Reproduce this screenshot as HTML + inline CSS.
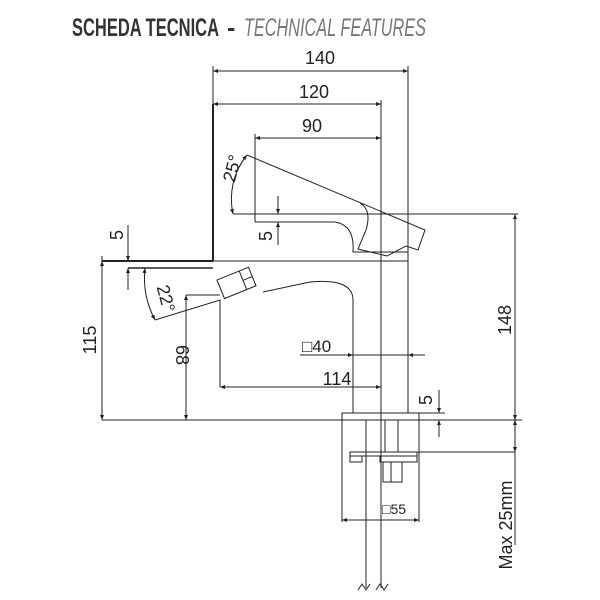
<!DOCTYPE html>
<html><head><meta charset="utf-8"><style>
html,body{margin:0;padding:0;background:#fff;}
svg{display:block;}
text{font-family:"Liberation Sans",sans-serif;fill:#222;}
</style></head><body>
<svg width="600" height="600" viewBox="0 0 600 600" xmlns="http://www.w3.org/2000/svg">
<defs>
<marker id="a" viewBox="0 0 10 10" refX="10" refY="5" markerWidth="7" markerHeight="5" orient="auto-start-reverse"><path d="M0,1 L10,5 L0,9 Z" fill="#222"/></marker>
</defs>
<text x="72" y="36" font-size="25" font-weight="bold" style="fill:#333" textLength="147" lengthAdjust="spacingAndGlyphs">SCHEDA TECNICA</text>
<text x="227" y="36" font-size="25" font-weight="bold" style="fill:#333">-</text>
<text x="244" y="36" font-size="25" font-style="italic" style="fill:#777" textLength="182" lengthAdjust="spacingAndGlyphs">TECHNICAL FEATURES</text>
<g stroke="#222" stroke-width="1" fill="none">
<line x1="213" y1="71" x2="408" y2="71" marker-start="url(#a)" marker-end="url(#a)"/>
<line x1="213" y1="104" x2="381" y2="104" marker-start="url(#a)" marker-end="url(#a)"/>
<line x1="255" y1="138" x2="381" y2="138" marker-start="url(#a)" marker-end="url(#a)"/>
<line x1="213" y1="66" x2="213" y2="104"/>
<line x1="408" y1="66" x2="408" y2="413"/>
<line x1="381" y1="100" x2="381" y2="588"/>
<line x1="255" y1="134" x2="255" y2="222"/>
<line x1="213" y1="104" x2="213" y2="261" stroke-width="2"/>
<line x1="102" y1="261" x2="213" y2="261" stroke-width="2"/>
<line x1="213" y1="261" x2="408" y2="261"/>
<line x1="102" y1="256" x2="102" y2="420"/>
<line x1="128" y1="268" x2="213" y2="268" stroke-width="1.6"/>
<path d="M247,155 L425,230 L418,250 L406,246 L387,256 L358,249 L366,230 Q372,210 360,203"/>
<line x1="233" y1="214" x2="518" y2="214"/>
<path d="M255,222 L335,222 Q355,225 353,252 L408,252"/>
<path d="M247,155 A70,70 0 0 0 233,214" marker-start="url(#a)" marker-end="url(#a)"/>
<line x1="278" y1="196" x2="278" y2="214" marker-end="url(#a)"/>
<line x1="278" y1="245" x2="278" y2="222" marker-end="url(#a)"/>
<line x1="128" y1="225" x2="128" y2="261" marker-end="url(#a)"/>
<line x1="128" y1="290" x2="128" y2="268" marker-end="url(#a)"/>
<line x1="102" y1="261" x2="102" y2="420" marker-start="url(#a)" marker-end="url(#a)"/>
<path d="M145,268 A90,90 0 0 0 155,320" marker-start="url(#a)" marker-end="url(#a)"/>
<path d="M155,320 L220,300 L220,387"/>
<path d="M186,295 L220,295"/>
<g transform="translate(217,280) rotate(-22)">
<rect x="0" y="0" width="34" height="20"/>
<line x1="24" y1="0" x2="24" y2="20"/>
<line x1="24" y1="10" x2="34" y2="10"/>
</g>
<path d="M263,292 L310,282 Q353,278 353,300 L353,413"/>
<line x1="186" y1="295" x2="186" y2="420" marker-start="url(#a)" marker-end="url(#a)"/>
<line x1="220" y1="387" x2="381" y2="387" marker-start="url(#a)" marker-end="url(#a)"/>
<line x1="300" y1="355" x2="353" y2="355"/>
<line x1="335" y1="355" x2="353" y2="355" marker-end="url(#a)"/>
<line x1="425" y1="355" x2="408" y2="355" marker-end="url(#a)"/>
<line x1="353" y1="355" x2="408" y2="355"/>
<line x1="102" y1="420" x2="522" y2="420"/>
<rect x="342" y="413" width="77" height="7"/>
<line x1="342" y1="420" x2="342" y2="522"/>
<line x1="419" y1="420" x2="419" y2="522"/>
<line x1="342" y1="520" x2="419" y2="520" marker-start="url(#a)" marker-end="url(#a)"/>
<line x1="366" y1="420" x2="366" y2="588"/>
<line x1="385" y1="420" x2="385" y2="452"/>
<line x1="398" y1="420" x2="398" y2="452"/>
<rect x="350" y="452" width="67" height="4"/>
<rect x="350" y="456" width="12" height="6"/>
<rect x="380" y="456" width="37" height="6"/>
<rect x="383" y="462" width="19" height="20"/>
<line x1="391" y1="462" x2="391" y2="482"/>
<path d="M358,590 l4,-6 l4,6 l4,-6 M376,590 l4,-6 l4,6 l4,-6"/>
<line x1="439" y1="390" x2="439" y2="413" marker-end="url(#a)"/>
<line x1="439" y1="437" x2="439" y2="420" marker-end="url(#a)"/>
<line x1="419" y1="413" x2="445" y2="413"/>
<line x1="515" y1="214" x2="515" y2="420" marker-start="url(#a)" marker-end="url(#a)"/>
<line x1="515" y1="420" x2="515" y2="452" marker-start="url(#a)" marker-end="url(#a)"/>
<line x1="515" y1="452" x2="515" y2="545"/>
<line x1="417" y1="452" x2="515" y2="452"/>
</g>
<g font-size="18">
<text x="320" y="64" text-anchor="middle">140</text>
<text x="314" y="98" text-anchor="middle">120</text>
<text x="312" y="132" text-anchor="middle">90</text>
<text x="337" y="385" text-anchor="middle">114</text>
<text x="302" y="352" font-size="17">□40</text>
<text x="382" y="514" font-size="14">□55</text>
<text transform="translate(96,340) rotate(-90)" text-anchor="middle">115</text>
<text transform="translate(176,355) rotate(90)" text-anchor="middle">68</text>
<text transform="translate(511,320) rotate(-90)" text-anchor="middle">148</text>
<text transform="translate(512,525) rotate(-90)" text-anchor="middle">Max 25mm</text>
<text transform="translate(238,170) rotate(-75)" text-anchor="middle">25°</text>
<text transform="translate(160,300) rotate(75)" text-anchor="middle">22°</text>
<text transform="translate(123,235) rotate(-90)" text-anchor="middle">5</text>
<text transform="translate(272,236) rotate(-90)" text-anchor="middle">5</text>
<text transform="translate(432,400) rotate(-90)" text-anchor="middle">5</text>
</g>
</svg>
</body></html>
